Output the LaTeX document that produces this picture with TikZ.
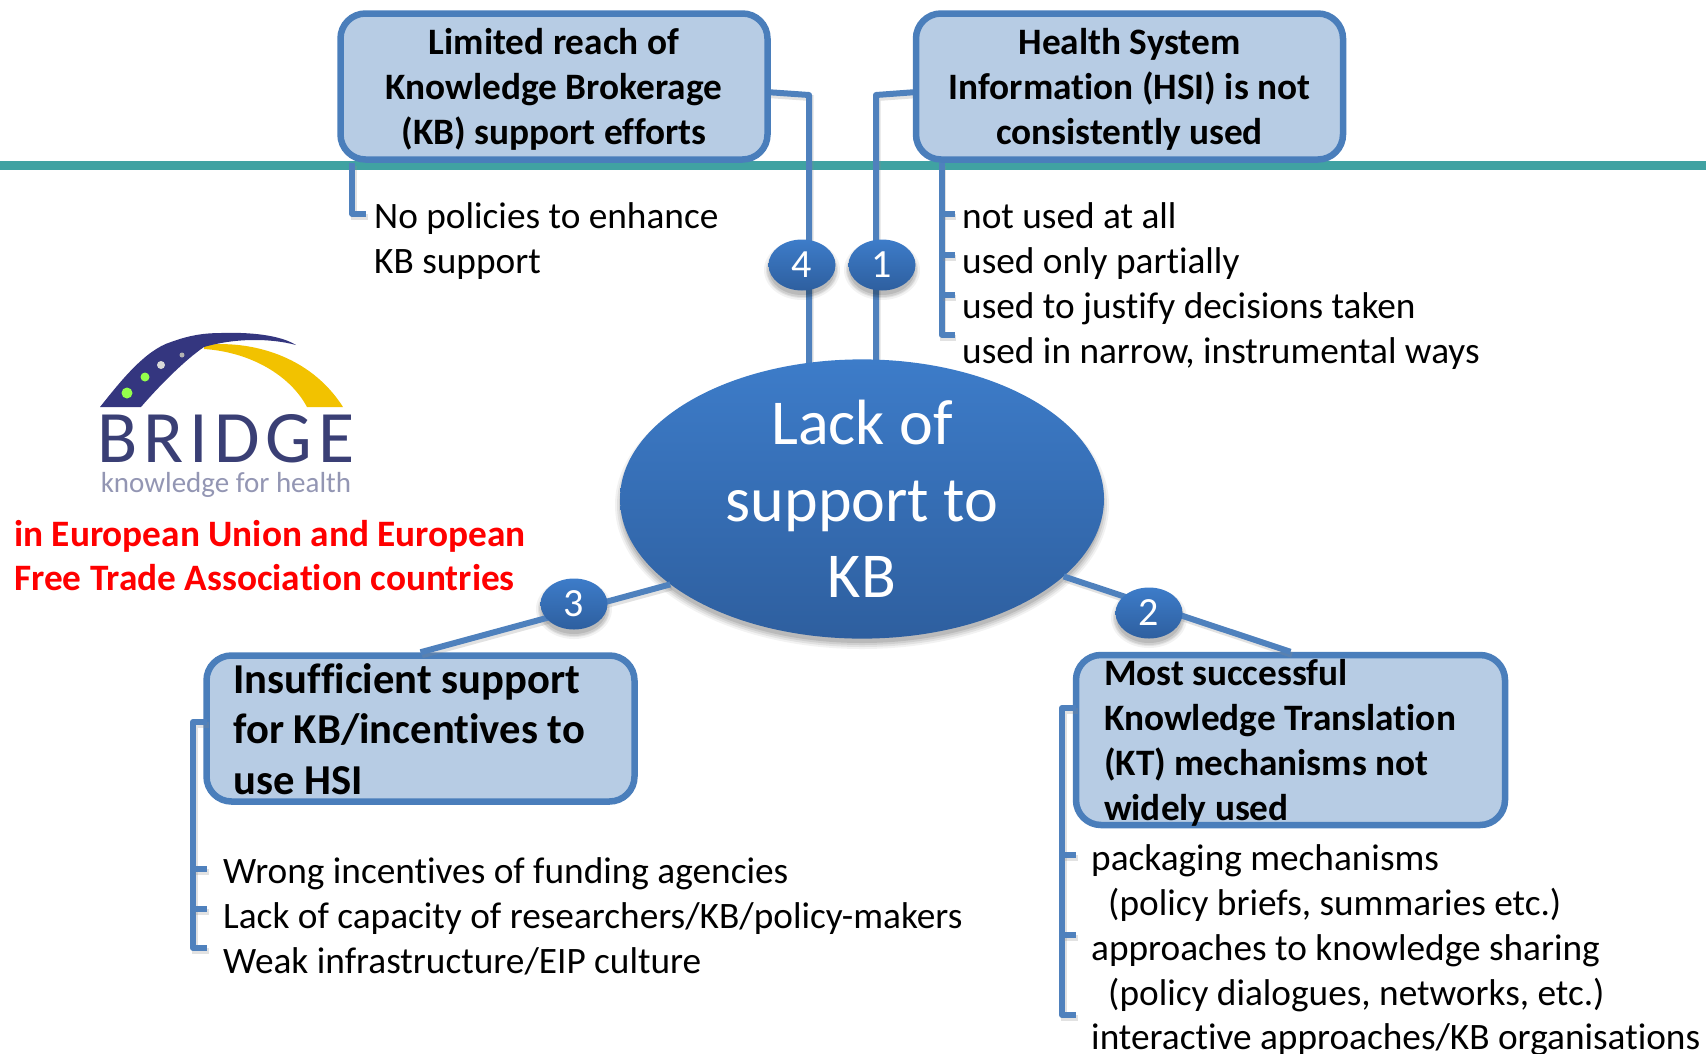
\documentclass[tikz,border=0pt]{standalone}
\usepackage{fontspec}
\setmainfont{Carlito}[Ligatures=NoCommon]
\newfontfamily\logofont[LetterSpace=8]{Carlito}
\newfontfamily\logobold[LetterSpace=6]{Carlito Bold}
\usetikzlibrary{shapes.geometric}
\definecolor{kbline}{HTML}{4F81BD}
\definecolor{kbedge}{HTML}{4A7EBB}
\definecolor{kbfill}{HTML}{B7CCE4}
\definecolor{tealbar}{HTML}{40A2A2}
\definecolor{ovtop}{HTML}{3D7CC9}
\definecolor{ovbot}{HTML}{2E5F9F}
\definecolor{lognavy}{HTML}{34367F}
\definecolor{logtext}{HTML}{3A3F75}
\definecolor{logyel}{HTML}{F2C200}
\tikzset{
  kbox/.style={draw=kbedge,fill=kbfill,line width=6.5pt,rounded corners=25pt,inner sep=0pt,rectangle,text=black},
  head/.style={font=\fontsize{37.3}{45}\selectfont\bfseries},
  headb/.style={font=\fontsize{42.6}{50.5}\selectfont\bfseries},
  conn/.style={draw=kbline,line width=6pt,line cap=butt,line join=round,
    preaction={draw=black!45,opacity=.25,line width=6pt,transform canvas={shift={(1.5pt,-3pt)}}}},
  listtxt/.style={font=\fontsize{37.3}{44.8}\selectfont,anchor=north west,inner sep=0pt,align=left},
  badge/.style={ellipse,minimum width=67pt,minimum height=51pt,inner sep=0pt,top color=ovtop,bottom color=ovbot,
    text=white,font=\fontsize{40}{44}\selectfont},
}
\begin{document}
\begin{tikzpicture}[x=1pt,y=-1pt]
\useasboundingbox (0,0) rectangle (1706,1053);
% bar
\coordinate (barL) at (0,165.5);
\coordinate (barR) at (1706,165.5);
\draw[tealbar,line width=9pt] (barL) -- (barR);
% anchors inside the central ellipse
\coordinate (in4) at (809,400);
\coordinate (in1) at (876,400);
\coordinate (el4) at (809,95);
\coordinate (el1) at (876,95);
\coordinate (mc) at (862,499);
% shadow of central ellipse
\foreach \g/\o in {6/.05,4/.07,2/.08,0/.10}{
  \fill[black,opacity=\o] (862,505) ellipse [x radius=241+\g,y radius=138+\g];
}
% connectors to the top boxes sit under the boxes' edge
\draw[conn] (766,92) -- (el4) -- (in4);
\draw[conn] (917,92) -- (el1) -- (in1);
% boxes
\node[kbox,head,minimum width=427pt,minimum height=146pt] (lr) at (554,86.5)
  {\smash{\raisebox{-9.5pt}{\parbox[c]{420pt}{\centering Limited reach of\\Knowledge Brokerage\\(KB) support efforts}}}};
\node[kbox,head,minimum width=427pt,minimum height=146pt] (hsi) at (1129.5,86.5)
  {\smash{\raisebox{-9.5pt}{\parbox[c]{420pt}{\centering Health System\\Information (HSI) is not\\consistently used}}}};
\node[kbox,headb,minimum width=428pt,minimum height=146pt] (b3) at (420.5,728.5)
  {\smash{\raisebox{-6.5pt}{\parbox[c]{374pt}{Insufficient support\\for KB/incentives to\\use HSI}}}};
\node[kbox,head,minimum width=429pt,minimum height=170pt] (b2) at (1290.5,740)
  {\smash{\raisebox{-9pt}{\parbox[c]{373pt}{Most successful\\Knowledge Translation\\(KT) mechanisms not\\widely used}}}};
% main ellipse
\node[ellipse,minimum width=484pt,minimum height=278pt,inner sep=0pt,top color=ovtop,bottom color=ovbot,
  text=white,align=center,font=\fontsize{64}{76.5}\selectfont] (main) at (mc) {Lack of\\support to\\KB};
% badge shadows
\foreach \x/\y in {802/265,882/265,574/604,1149/613}{
  \foreach \g/\o in {5/.05,3/.07,2/.08,0/.10}{
    \fill[black,opacity=\o] (\x,\y+5) ellipse [x radius=33+\g,y radius=25+\g];
  }
}
\draw[conn] (main.204.4) -- (b3.north);
\draw[conn] (main.-21.9) -- (b2.north);
\node[badge] (n4) at (802,265) {4};
\node[badge] (n1) at (882,265) {1};
\node[badge] (n3) at (574,604) {3};
\node[badge] (n2) at (1149,613) {2};
% brackets
\draw[conn] ([xshift=15pt]lr.south west) -- ++(0,51) -- ++(14,0);
\draw[conn] ([xshift=29pt]hsi.south west) -- ++(0,172) -- ++(13,0);
\draw[conn] ([xshift=29pt,yshift=-51pt]hsi.south west) -- ++(13,0);
\draw[conn] ([xshift=29pt,yshift=-92pt]hsi.south west) -- ++(13,0);
\draw[conn] ([xshift=29pt,yshift=-132pt]hsi.south west) -- ++(13,0);
\coordinate (b3s) at (207,722);
\draw[conn] (b3s) -- ++(-14,0) -- ++(0,226) -- ++(14,0);
\draw[conn] (193,869) -- ++(14,0);
\draw[conn] (193,909) -- ++(14,0);
\coordinate (b2s) at (1076,708);
\draw[conn] (b2s) -- ++(-14,0) -- ++(0,307) -- ++(14,0);
\draw[conn] (1062,855) -- ++(14,0);
\draw[conn] (1062,935) -- ++(14,0);
% lists
\node[listtxt] (l1) at (374,202.5) {No policies to enhance\\KB support};
\node[listtxt] (l2) at (962,202.5) {not used at all\\used only partially\\used to justify decisions taken\\used in narrow, instrumental ways};
\node[listtxt] (l3) at (223,857.5) {Wrong incentives of funding agencies\\Lack of capacity of researchers/KB/policy-makers\\Weak infrastructure/EIP culture};
\node[listtxt] (l4) at (1091,844.5) {packaging mechanisms\\\hspace*{17pt}(policy briefs, summaries etc.)\\approaches to knowledge sharing\\\hspace*{17pt}(policy dialogues, networks, etc.)\\interactive approaches/KB organisations};
% red
\node[font=\fontsize{37.3}{44}\selectfont\bfseries,text=red,anchor=north west,inner sep=0pt,align=left] (red) at (14,520)
  {in European Union and European\\Free Trade Association countries};
% logo
\fill[logyel] (204,345) .. controls (250,340) and (310,355) .. (343,407) -- (307,407)
  .. controls (290,375) and (250,352) .. (204,349) -- cycle;
\fill[lognavy] (100,407) .. controls (120,382) and (145,350) .. (171,342) .. controls (190,335) and (205,333) .. (221,333)
  .. controls (250,332) and (280,335) .. (296,345) .. controls (270,338) and (235,338) .. (204,347)
  .. controls (185,360) and (160,385) .. (141,407) -- cycle;
\fill[green!60!yellow!70!white] (127,393) circle (5.5);
\fill[green!60!yellow!70!white] (145,377) circle (4.5);
\fill[black!15!white] (161,365) circle (4);
\fill[black!30!white] (182,355) circle (2.5);
\node[font=\logofont\fontsize{74}{74}\selectfont,text=logtext,inner sep=0pt,anchor=base] (logo) at (226,462) {BRIDGE};
\node[font=\fontsize{29}{30}\selectfont,text=logtext,opacity=.55,inner sep=0pt,anchor=base] (logot) at (226,492) {knowledge for health};
\end{tikzpicture}
\end{document}
